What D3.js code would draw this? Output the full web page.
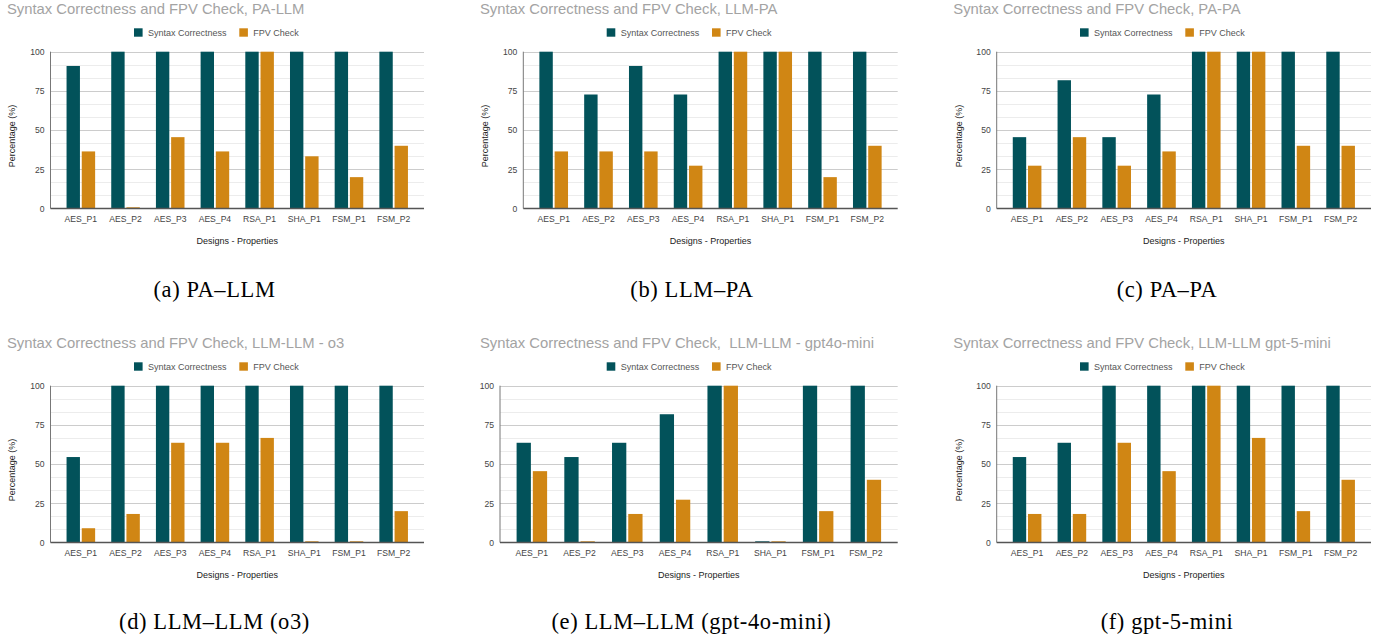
<!DOCTYPE html>
<meta charset="utf-8">
<style>
  body { margin: 0; background: #fff; }
  svg { display: block; font-family: Arial, "Liberation Sans", sans-serif; }
  .caption { font-family: "Liberation Serif", "Times New Roman", serif; font-size: 22.5px; letter-spacing: 0.6px; fill: #000; }
</style>
<body>
<div id="figure"></div>
<script src="https://d3js.org/d3.v7.min.js"></script>
<script>

// categories on the x axis, same for every panel
var categories = ["AES_P1", "AES_P2", "AES_P3", "AES_P4", "RSA_P1", "SHA_P1", "FSM_P1", "FSM_P2"];
var seriesNames = ["Syntax Correctness", "FPV Check"];
var yTicks = [0, 25, 50, 75, 100];

var titles = [
  "Syntax Correctness and FPV Check, PA-LLM",
  "Syntax Correctness and FPV Check, LLM-PA",
  "Syntax Correctness and FPV Check, PA-PA",
  "Syntax Correctness and FPV Check, LLM-LLM - o3",
  "Syntax Correctness and FPV Check,\u00a0 LLM-LLM - gpt4o-mini",
  "Syntax Correctness and FPV Check, LLM-LLM gpt-5-mini"
];
var captions = [
  "(a) PA\u2013LLM", "(b) LLM\u2013PA", "(c) PA\u2013PA",
  "(d) LLM\u2013LLM (o3)", "(e) LLM\u2013LLM (gpt-4o-mini)", "(f) gpt-5-mini"
];

// values (%)
var syntaxPaLlm = [90.9, 100, 100, 100, 100, 100, 100, 100];
var fpvPaLlm    = [36.4, 0, 45.5, 36.4, 100, 33.3, 20, 40];

var syntaxLlmPa = [100, 72.7, 90.9, 72.7, 100, 100, 100, 100];
var fpvLlmPa    = [36.4, 36.4, 36.4, 27.3, 100, 100, 20, 40];

var syntaxPaPa  = [45.5, 81.8, 45.5, 72.7, 100, 100, 100, 100];
var fpvPaPa     = [27.3, 45.5, 27.3, 36.4, 100, 100, 40, 40];

var syntaxO3    = [54.5, 100, 100, 100, 100, 100, 100, 100];
var fpvO3       = [9.1, 18.2, 63.6, 63.6, 66.7, 0, 0, 20];

var syntax4oMini = [63.6, 54.5, 63.6, 81.8, 100, 0, 100, 100];
var fpv4oMini    = [45.5, 0, 18.2, 27.3, 100, 0, 20, 40];

var syntax5Mini = [54.5, 63.6, 100, 100, 100, 100, 100, 100];
var fpv5Mini    = [18.2, 18.2, 63.6, 45.5, 100, 66.7, 20, 40];

var syntaxAll = [syntaxPaLlm, syntaxLlmPa, syntaxPaPa, syntaxO3, syntax4oMini, syntax5Mini];
var fpvAll = [fpvPaLlm, fpvLlmPa, fpvPaPa, fpvO3, fpv4oMini, fpv5Mini];

var colors = ["#02525a", "#d08614"];

// panel layout (pixels)
var layout = [
  {ox: 0,   oy: 0,   left: 50.5, right: 424,   titleX: 7,    legendX: 134,   yTitleX: 12,   capX: 214.5, capY: 296.7},
  {ox: 470, oy: 0,   left: 53.3, right: 427.7, titleX: 10,   legendX: 136.7, yTitleX: 15.3, capX: 222,   capY: 296.7},
  {ox: 940, oy: 0,   left: 56.7, right: 431,   titleX: 13.3, legendX: 140,   yTitleX: 18.7, capX: 227,   capY: 296.7},
  {ox: 0,   oy: 334, left: 50.5, right: 424,   titleX: 7,    legendX: 134,   yTitleX: 12,   capX: 214.5, capY: 294.5},
  {ox: 470, oy: 334, left: 30,   right: 427.7, titleX: 10,   legendX: 136.7, yTitleX: null, capX: 221.5, capY: 294.5},
  {ox: 940, oy: 334, left: 56.7, right: 431,   titleX: 13.3, legendX: 140,   yTitleX: 18.7, capX: 227,   capY: 294.5}
];
var plotTop = 51.7, plotBottom = 208.5;

var svg = d3.select("#figure").append("svg")
  .attr("width", 1386)
  .attr("height", 641);

layout.forEach(function(L, i) {
  var g = svg.append("g").attr("transform", "translate(" + L.ox + "," + L.oy + ")");

  var x0 = d3.scaleBand()
    .domain(categories)
    .range([L.left + 8, L.right - 8])
    .padding(0);

  var x1 = d3.scaleBand()
    .domain(seriesNames)
    .range([0, x0.bandwidth()])
    .paddingInner(0.12)
    .paddingOuter(0.53);

  var y = d3.scaleLinear().domain([0, 100]).range([plotBottom, plotTop]);

  // minor gridlines
  var minor = d3.range(0, 100.01, 100 / 12).filter(function(v) { return yTicks.indexOf(Math.round(v)) < 0 || Math.abs(v - Math.round(v)) > 0.01; });
  g.selectAll(".minor").data(minor).enter().append("line")
    .attr("x1", L.left).attr("x2", L.right)
    .attr("y1", function(d) { return Math.round(y(d)) + 0.5; })
    .attr("y2", function(d) { return Math.round(y(d)) + 0.5; })
    .attr("stroke", "#ececec");

  // major gridlines
  g.selectAll(".major").data(yTicks.slice(1)).enter().append("line")
    .attr("x1", L.left).attr("x2", L.right)
    .attr("y1", function(d) { return Math.round(y(d)) + 0.5; })
    .attr("y2", function(d) { return Math.round(y(d)) + 0.5; })
    .attr("stroke", "#cccccc");

  // y axis labels
  var yAxis = g.append("g")
    .attr("transform", "translate(" + L.left + ",0)")
    .call(d3.axisLeft(y).tickValues(yTicks).tickSize(0).tickPadding(6));
  yAxis.select(".domain").remove();
  yAxis.selectAll("text").style("font-size", "8.6px").attr("fill", "#444")
    .style("font-family", "Arial, 'Liberation Sans', sans-serif");

  // bars
  var rows = categories.map(function(c, j) {
    return {cat: c, vals: [syntaxAll[i][j], fpvAll[i][j]]};
  });
  var grp = g.selectAll(".grp").data(rows).enter().append("g")
    .attr("transform", function(d) { return "translate(" + x0(d.cat) + ",0)"; });
  grp.selectAll("rect")
    .data(function(d) { return d.vals.map(function(v, k) { return {key: seriesNames[k], v: v, k: k}; }); })
    .enter().append("rect")
    .attr("x", function(d) { return x1(d.key); })
    .attr("width", x1.bandwidth())
    .attr("y", function(d) { return Math.min(y(d.v), plotBottom - 1.2); })
    .attr("height", function(d) { return Math.max(plotBottom - y(d.v), 1.2); })
    .attr("fill", function(d) { return colors[d.k]; });

  // left axis line and baseline
  g.append("line")
    .attr("x1", L.left).attr("x2", L.left)
    .attr("y1", plotTop).attr("y2", plotBottom)
    .attr("stroke", "#777").attr("stroke-width", 1);
  g.append("line")
    .attr("x1", L.left).attr("x2", L.right)
    .attr("y1", plotBottom).attr("y2", plotBottom)
    .attr("stroke", "#555").attr("stroke-width", 1.3);

  // x axis labels
  var xAxis = g.append("g")
    .attr("transform", "translate(0," + plotBottom + ")")
    .call(d3.axisBottom(x0).tickSize(0).tickPadding(7.5));
  xAxis.select(".domain").remove();
  xAxis.selectAll("text").style("font-size", "8.6px").attr("fill", "#444")
    .style("font-family", "Arial, 'Liberation Sans', sans-serif");

  // axis titles
  g.append("text")
    .attr("x", (L.left + L.right) / 2)
    .attr("y", 244.3)
    .attr("text-anchor", "middle")
    .style("font-size", "9px")
    .attr("fill", "#222")
    .text("Designs - Properties");

  if (L.yTitleX !== null) {
    g.append("text")
      .attr("transform", "translate(" + (L.yTitleX + 3) + ",136) rotate(-90)")
      .attr("text-anchor", "middle")
      .style("font-size", "9px")
      .attr("fill", "#222")
      .text("Percentage (%)");
  }

  // chart title
  g.append("text")
    .attr("x", L.titleX)
    .attr("y", 14.3)
    .style("font-size", "14.8px")
    .attr("fill", "#a3a3a3")
    .text(titles[i]);

  // legend
  var leg = g.selectAll(".leg").data(seriesNames).enter().append("g")
    .attr("transform", function(d, k) { return "translate(" + (L.legendX + k * 105.3) + ",28.3)"; });
  leg.append("rect")
    .attr("width", 8.6).attr("height", 8.4)
    .attr("fill", function(d, k) { return colors[k]; });
  leg.append("text")
    .attr("x", 14).attr("y", 7.6)
    .style("font-size", "9px")
    .attr("fill", "#555")
    .text(function(d) { return d; });

  // caption
  g.append("text")
    .attr("class", "caption")
    .attr("x", L.capX)
    .attr("y", L.capY)
    .attr("text-anchor", "middle")
    .text(captions[i]);
});

</script>
</body>
